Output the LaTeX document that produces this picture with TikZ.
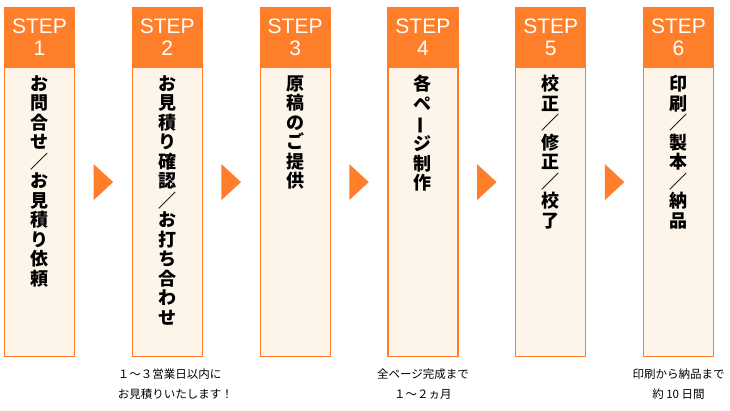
\documentclass[tikz,border=0pt]{standalone}
\usepackage{fontspec}
\setmainfont{Liberation Sans}
\newfontfamily\jpfont{Noto Sans CJK JP}
\usetikzlibrary{positioning}
\usetikzlibrary{calc}
\definecolor{steporange}{RGB}{255,126,42}
\definecolor{stepcream}{RGB}{253,245,234}

\begin{document}
\begin{tikzpicture}[x=1pt, y=-1pt, node distance=127.8pt,
  head/.style={draw=steporange, fill=steporange, line width=1.2pt, text=white,
    minimum width=70pt, minimum height=59pt, inner sep=0pt, align=center,
    font=\fontsize{21}{22}\selectfont},
  body/.style={draw=steporange, fill=stepcream, line width=1.2pt,
    minimum width=70pt, minimum height=289pt, inner sep=0pt},
  vtext/.style={align=center, inner sep=0pt,
    font=\jpfont\bfseries\fontsize{18}{19.5}\selectfont},
  note/.style={align=center, inner sep=0pt,
    font=\jpfont\fontsize{11.5}{20}\selectfont}]
  \useasboundingbox (0,0) rectangle (730,410);
  \node (h1) [head] at (39.5,37) {STEP\\1};
  \node (h2) [head, right of=h1] {STEP\\2};
  \node (h3) [head, right of=h2] {STEP\\3};
  \node (h4) [head, right of=h3] {STEP\\4};
  \node (h5) [head, right of=h4] {STEP\\5};
  \node (h6) [head, right of=h5] {STEP\\6};
  \node (b1) [body, below=0pt of h1] {};
  \node (b2) [body, below=0pt of h2] {};
  \node (b3) [body, below=0pt of h3] {};
  \node (b4) [body, below=0pt of h4] {};
  \node (b5) [body, below=0pt of h5] {};
  \node (b6) [body, below=0pt of h6] {};
  % vertical texts
  \node (t1) [vtext, below=8pt of b1.north] {お\\問\\合\\せ\\／\\お\\見\\積\\り\\依\\頼};
  \node (t2) [vtext, below=8pt of b2.north] {お\\見\\積\\り\\確\\認\\／\\お\\打\\ち\\合\\わ\\せ};
  \node (t3) [vtext, below=8pt of b3.north] {原\\稿\\の\\ご\\提\\供};
  \node (t4) [vtext, below=8pt of b4.north] {各\\ペ\\\rotatebox[origin=c]{90}{ー}\\ジ\\制\\作};
  \node (t5) [vtext, below=8pt of b5.north] {校\\正\\／\\修\\正\\／\\校\\了};
  \node (t6) [vtext, below=8pt of b6.north] {印\\刷\\／\\製\\本\\／\\納\\品};
  % arrows between steps
  \foreach \i [evaluate=\i as \j using int(\i+1)] in {1,...,5} {
    \coordinate (m\i) at ($(h\i.north east)!.5!(b\j.south west)$);
    \fill[steporange] ([xshift=-9.75pt,yshift=18pt]m\i) -- ([xshift=9.75pt]m\i)
      -- ([xshift=-9.75pt,yshift=-18pt]m\i) -- cycle;
  }
  % notes
  \node (n2) [note, below=11pt of b2, xshift=8pt, align=left] {１～３営業日以内に\\お見積りいたします！};
  \node (n4) [note, below=11pt of b4] {全ページ完成まで\\１～２ヵ月};
  \node (n6) [note, below=11pt of b6] {印刷から納品まで\\約 10 日間};
\end{tikzpicture}
\end{document}
